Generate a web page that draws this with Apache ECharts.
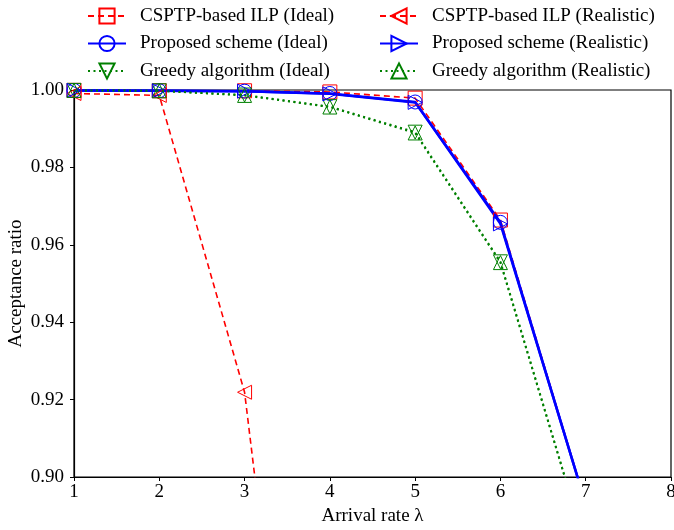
<!DOCTYPE html>
<html><head><meta charset="utf-8">
<script src="https://cdn.jsdelivr.net/npm/echarts@6/dist/echarts.min.js"></script>
<style>html,body{margin:0;padding:0;background:#fff}#c{width:674px;height:530px}</style>
</head><body><div id="c"></div>
<script>
const arrivalRates = [1, 2, 3, 4, 5, 6, 7];
const csptpIdeal = [0.9999, 0.9998, 0.9998, 0.9995, 0.9979, 0.9664, 0.893];
const proposedIdeal = [0.9999, 0.9998, 0.9997, 0.9991, 0.9969, 0.9658, 0.893];
const greedyIdeal = [0.9999, 0.9998, 0.9987, 0.9957, 0.9891, 0.9556, 0.882];
const csptpReal = [0.9991, 0.9986, 0.9219, 0.74, 0.6, 0.5, 0.4];
const proposedReal = [0.9999, 0.9998, 0.9997, 0.999, 0.9968, 0.9654, 0.893];
const greedyReal = [0.9999, 0.9998, 0.9986, 0.9956, 0.9889, 0.9554, 0.882];
const yTicks = ['0.90', '0.92', '0.94', '0.96', '0.98', '1.00'];

const FONT = 'Liberation Serif';
const pairs = a => arrivalRates.map((x, i) => [x, a[i]]);
function mk(name, data, color, type, width, symbol, rot) {
  return {
    name, type: 'line', data: pairs(data), symbol, symbolSize: 14, symbolRotate: rot || 0,
    showAllSymbol: true, clip: true,
    lineStyle: { color, width, type },
    itemStyle: { color: 'rgba(255,255,255,0)', borderColor: color, borderWidth: 1 },
    emphasis: { disabled: true }, animation: false, z: 2
  };
}
const series = [
  mk('CSPTP-based ILP (Ideal)', csptpIdeal, '#ff0000', [6, 4], 1.6, 'rect'),
  mk('Proposed scheme (Ideal)', proposedIdeal, '#0000ff', 'solid', 2.5, 'circle'),
  mk('Greedy algorithm (Ideal)', greedyIdeal, '#008000', [2, 3.5], 2, 'triangle', 180),
  mk('CSPTP-based ILP (Realistic)', csptpReal, '#ff0000', [6, 4], 1.6, 'triangle', 90),
  mk('Proposed scheme (Realistic)', proposedReal, '#0000ff', 'solid', 2.5, 'triangle', -90),
  mk('Greedy algorithm (Realistic)', greedyReal, '#008000', [2, 3.5], 2, 'triangle')
];
const legendBase = {
  orient: 'vertical', itemWidth: 38, itemHeight: 19, itemGap: 8.5, padding: 0,
  textStyle: { fontFamily: FONT, fontSize: 19, lineHeight: 19, color: '#000', padding: [0, 0, 0, 9] },
  selectedMode: false
};
const chart = echarts.init(document.getElementById('c'));
chart.setOption({
  backgroundColor: '#fff',
  animation: false,
  grid: { left: 74, right: 3, top: 90, bottom: 53, containLabel: false, outerBoundsMode: 'none',
    show: true, borderColor: '#000', borderWidth: 1.2, backgroundColor: 'transparent' },
  legend: [
    Object.assign({}, legendBase, { left: 87, top: 6.5, data: series.slice(0, 3).map(s => s.name) }),
    Object.assign({}, legendBase, { left: 379, top: 6.5, data: series.slice(3).map(s => s.name) })
  ],
  xAxis: {
    type: 'value', min: 1, max: 8, interval: 1,
    name: 'Arrival rate λ', nameLocation: 'middle', nameGap: 30, nameMoveOverlap: false,
    nameTextStyle: { fontFamily: FONT, fontSize: 19, color: '#000' },
    axisLine: { show: true, lineStyle: { color: '#000', width: 1.2 } },
    axisTick: { show: true, length: 4, lineStyle: { color: '#000' } },
    axisLabel: { fontFamily: FONT, fontSize: 19, color: '#000', margin: 6 },
    splitLine: { show: false }
  },
  yAxis: {
    type: 'value', min: 0.9, max: 1.0, interval: 0.02,
    name: 'Acceptance ratio', nameLocation: 'middle', nameGap: 48, nameMoveOverlap: false,
    nameTextStyle: { fontFamily: FONT, fontSize: 19, color: '#000' },
    axisLine: { show: true, lineStyle: { color: '#000', width: 1.2 } },
    axisTick: { show: true, length: 4, lineStyle: { color: '#000' } },
    axisLabel: { fontFamily: FONT, fontSize: 19, color: '#000', margin: 10,
      formatter: v => yTicks[Math.round((v - 0.9) / 0.02)] },
    splitLine: { show: false }
  },
  series
});
</script></body></html>
